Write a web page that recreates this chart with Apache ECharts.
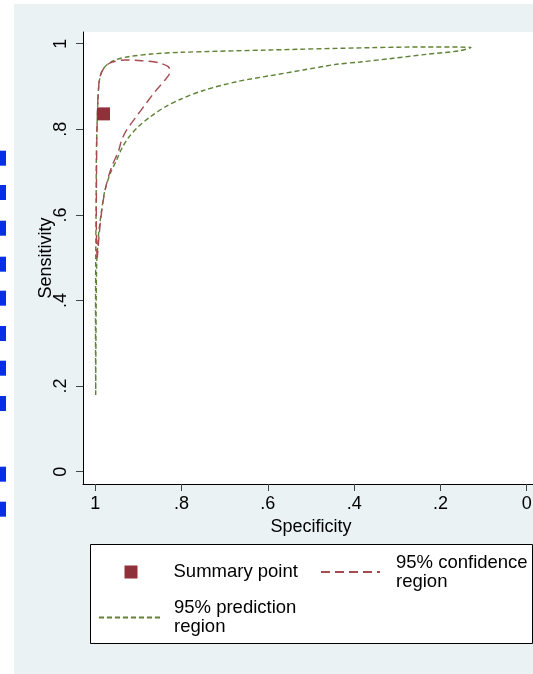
<!DOCTYPE html>
<html><head><meta charset="utf-8">
<script src="https://cdn.jsdelivr.net/npm/echarts@6/dist/echarts.min.js"></script>
<style>html,body{margin:0;padding:0;background:#fff}#c{width:533px;height:674px}</style>
</head><body><div id="c"></div>
<script>
const xTicks = [1, 0.8, 0.6, 0.4, 0.2, 0];
const xTickLabels = ['1', '.8', '.6', '.4', '.2', '0'];
const yTicks = [0, 0.2, 0.4, 0.6, 0.8, 1];
const yTickLabels = ['0', '.2', '.4', '.6', '.8', '1'];

const summarySpec = [0.981];
const summarySens = [0.836];

const confSpec = [0.996, 0.9977, 0.9972, 0.9965, 0.9949, 0.993, 0.9891, 0.9775, 0.962, 0.9312, 0.8924, 0.854, 0.8308, 0.8268, 0.8384, 0.8616, 0.8848, 0.908, 0.9272, 0.9388, 0.9467, 0.962, 0.9736, 0.9815, 0.9868, 0.9914, 0.9944, 0.996];
const confSens = [0.4993, 0.588, 0.6815, 0.775, 0.845, 0.887, 0.9229, 0.9463, 0.9565, 0.9619, 0.9603, 0.9556, 0.9463, 0.9346, 0.9152, 0.8879, 0.8568, 0.8257, 0.7984, 0.775, 0.7477, 0.7126, 0.6738, 0.6348, 0.5958, 0.5491, 0.5103, 0.4993];

const predSpec = [0.999, 0.9995, 0.999, 0.998, 0.9977, 0.9968, 0.9944, 0.9914, 0.9852, 0.9736, 0.9543, 0.9235, 0.8693, 0.7997, 0.595, 0.3632, 0.2318, 0.1291, 0.1546, 0.2318, 0.3092, 0.3864, 0.4404, 0.5178, 0.595, 0.6722, 0.7497, 0.8037, 0.8384, 0.8732, 0.901, 0.9219, 0.9369, 0.9504, 0.9648, 0.9775, 0.9852, 0.9914, 0.9944, 0.9968, 0.9979, 0.9986, 0.999];
const predSens = [0.179, 0.331, 0.495, 0.635, 0.728, 0.783, 0.853, 0.9075, 0.9346, 0.9502, 0.9619, 0.9696, 0.9759, 0.9799, 0.9853, 0.9907, 0.9923, 0.9911, 0.9836, 0.9752, 0.9659, 0.9572, 0.9519, 0.9386, 0.9252, 0.9112, 0.8907, 0.8696, 0.8521, 0.8287, 0.8054, 0.782, 0.7586, 0.7283, 0.6979, 0.6582, 0.6115, 0.5647, 0.5257, 0.4869, 0.4012, 0.2843, 0.179];

const seriesNames = ['Summary point', '95% confidence region', '95% prediction region'];

const zip = (a, b) => a.map((v, i) => [v, b[i]]);
const lab = (ticks, labels) => v => { const i = ticks.findIndex(t => Math.abs(t - v) < 1e-9); return i >= 0 ? labels[i] : ''; };
const FONT = 'Liberation Sans, Arial, Helvetica, sans-serif';
const bg = '#eaf2f3';

const blueTops = [150.7, 185, 220.7, 256.7, 290.7, 326, 360.7, 396, 466.7, 501.7];

const chart = echarts.init(document.getElementById('c'), null, {renderer: 'canvas'});
const legendCommon = {
  orient: 'horizontal', padding: 0, selectedMode: false, itemHeight: 13,
  formatter: n => n.replace(' region', '\nregion'),
  textStyle: {fontSize: 18.5, fontFamily: FONT, color: '#000', lineHeight: 19}
};
chart.setOption({
  backgroundColor: '#fff',
  animation: false,
  textStyle: {fontFamily: FONT},
  graphic: [
    {type: 'rect', z: -10, silent: true, shape: {x: 14, y: 4, width: 519, height: 670}, style: {fill: bg}},
    {type: 'rect', z: 1, silent: true, shape: {x: 90.5, y: 544.5, width: 442, height: 99}, style: {fill: '#fff', stroke: '#000', lineWidth: 1}},
    ...blueTops.map(t => ({type: 'rect', silent: true, shape: {x: 0, y: t, width: 6, height: 15}, style: {fill: '#0a2ee6'}}))
  ],
  grid: {left: 83, top: 32, width: 456, height: 452, show: true, backgroundColor: '#fff', borderWidth: 0,
    containLabel: false, outerBoundsMode: 'none'},
  xAxis: {
    type: 'value', inverse: true, min: -0.0285, max: 1.0285,
    axisLine: {show: true, onZero: false, lineStyle: {color: '#000', width: 1}},
    axisTick: {show: true, customValues: xTicks, length: 7, lineStyle: {color: '#444', width: 1}},
    axisLabel: {customValues: xTicks, formatter: lab(xTicks, xTickLabels), fontSize: 18, color: '#000', margin: 11, fontFamily: FONT, hideOverlap: false},
    splitLine: {show: false},
    name: 'Specificity', nameLocation: 'middle', nameGap: 34, nameMoveOverlap: false,
    nameTextStyle: {fontSize: 18, color: '#000', fontFamily: FONT}
  },
  yAxis: {
    type: 'value', min: -0.0287, max: 1.0273,
    axisLine: {show: true, onZero: false, lineStyle: {color: '#000', width: 1}},
    axisTick: {show: true, customValues: yTicks, length: 7, lineStyle: {color: '#444', width: 1}},
    axisLabel: {customValues: yTicks, formatter: lab(yTicks, yTickLabels), rotate: 90, fontSize: 18, color: '#000', margin: 13, fontFamily: FONT, hideOverlap: false},
    splitLine: {show: false},
    name: 'Sensitivity', nameLocation: 'middle', nameGap: 28, nameMoveOverlap: false,
    nameTextStyle: {fontSize: 18, color: '#000', fontFamily: FONT}
  },
  legend: [
    Object.assign({}, legendCommon, {data: [seriesNames[0]], left: 124.5, top: 562.5, itemWidth: 13, icon: 'rect',
      textStyle: Object.assign({}, legendCommon.textStyle, {padding: [0, 0, 0, 31]})}),
    Object.assign({}, legendCommon, {data: [seriesNames[1]], left: 320, top: 553, itemWidth: 59,
      itemStyle: {opacity: 0, color: 'rgba(0,0,0,0)', borderWidth: 0},
      textStyle: Object.assign({}, legendCommon.textStyle, {padding: [0, 0, 0, 11]})}),
    Object.assign({}, legendCommon, {data: [seriesNames[2]], left: 98, top: 598.5, itemWidth: 62,
      itemStyle: {opacity: 0, color: 'rgba(0,0,0,0)', borderWidth: 0},
      textStyle: Object.assign({}, legendCommon.textStyle, {padding: [0, 0, 0, 8]})})
  ],
  series: [
    {name: seriesNames[2], type: 'line', data: zip(predSpec, predSens), symbol: 'none', smooth: 0.3,
      lineStyle: {color: '#608236', width: 1.4, type: [5, 3]}, itemStyle: {color: '#608236'}, z: 2},
    {name: seriesNames[1], type: 'line', data: zip(confSpec, confSens), symbol: 'none', smooth: 0.3,
      lineStyle: {color: '#a84a52', width: 1.4, type: [9, 5]}, itemStyle: {color: '#a84a52'}, z: 3},
    {name: seriesNames[0], type: 'scatter', data: zip(summarySpec, summarySens), symbol: 'rect', symbolSize: 13,
      itemStyle: {color: '#8f3139', opacity: 1}, z: 4}
  ]
});
</script></body></html>
